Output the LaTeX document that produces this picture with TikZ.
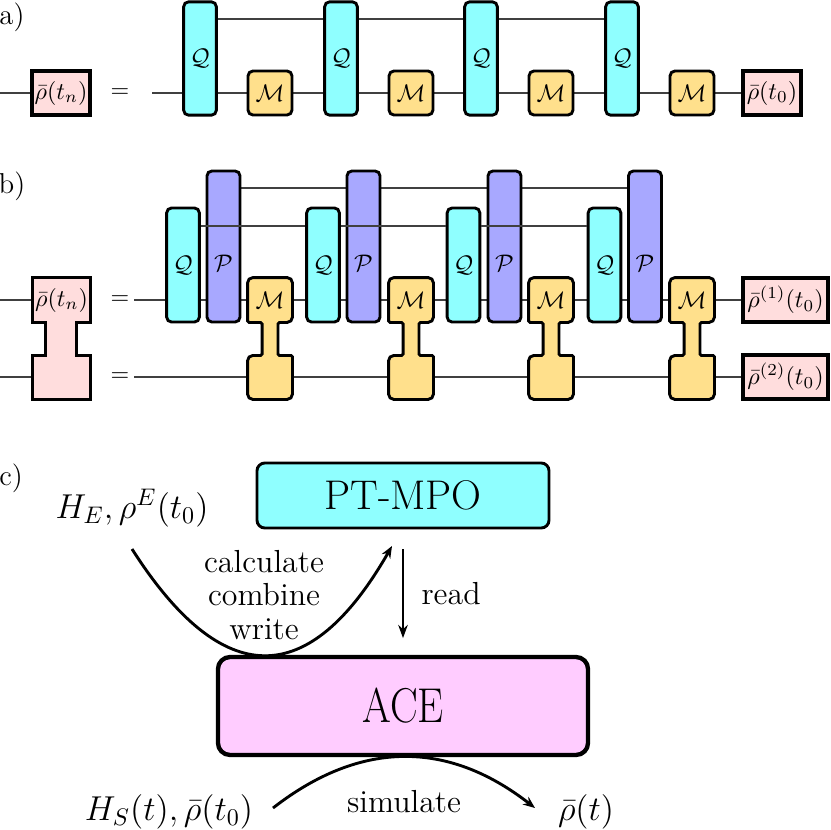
\documentclass[tikz,border=0pt]{standalone}
\usepackage{xcolor}
\usepackage{tikz}
\usepackage{amsmath}
\usepackage{graphicx}
\usetikzlibrary{
  arrows.meta,
  positioning,
  backgrounds
}
\definecolor{acQ}{HTML}{8FFFFF}
\definecolor{acP}{HTML}{A8A8FF}
\definecolor{acM}{HTML}{FFE08C}
\definecolor{acRho}{HTML}{FFDDDD}
\definecolor{acACE}{HTML}{FFCCFF}
\tikzset{
  acnode/.style={
    draw, very thick, rounded corners=2pt, inner sep=0pt, font=\normalsize
  },
  qgate/.style={acnode, fill=acQ, minimum width=13.6pt, minimum height=47.2pt},
  pgate/.style={acnode, fill=acP, minimum width=13.75pt, minimum height=62.9pt},
  mgate/.style={acnode, fill=acM, minimum width=18.3pt, minimum height=18.3pt},
  mlabel/.style={inner sep=0pt, minimum width=18.3pt, minimum height=18.3pt},
  rhobox/.style={draw, line width=1.4pt, fill=acRho, inner sep=0pt, minimum height=18.3pt},
  rholabel/.style={inner sep=0pt, minimum width=23.75pt, minimum height=18.3pt},
  mshape/.style={draw, very thick, fill=acM, rounded corners=2.2pt},
  neck/.style={rounded corners=0.6pt},
  rhoshape/.style={draw, line width=1.4pt, fill=acRho},
  wire/.style={line width=0.7pt, black!75},
  panel/.style={font=\large},
  tool/.style={draw, font=\LARGE, inner sep=0pt},
  flow/.style={-{Stealth[length=5pt, width=4pt]}, line width=1.2pt},
  readflow/.style={-{Stealth[length=5.5pt, width=4pt]}, line width=0.8pt},
  flowlabel/.style={font=\fontsize{13.3}{13.8}\selectfont, align=center},
  mathlabel/.style={font=\Large}
}

\begin{document}
\begin{tikzpicture}[x=0.41667pt, y=-0.41667pt]
  \useasboundingbox (0,0) rectangle (831,829);
  % a) single chain
  \node[panel] (la) at (12,17) {a)};
  \node[rhobox, minimum width=24.2pt] (ra) at (61,93) {$\bar\rho(t_n)$};
  \node (eqa) at (120,93) {$=$};
  \node[qgate] (qa1) at (200,58.5) {$\mathcal{Q}$};
  \node[qgate] (qa2) at (341,58.5) {$\mathcal{Q}$};
  \node[qgate] (qa3) at (481,58.5) {$\mathcal{Q}$};
  \node[qgate] (qa4) at (622,58.5) {$\mathcal{Q}$};
  \node[mgate] (ma1) at (270,93) {$\mathcal{M}$};
  \node[mgate] (ma2) at (411,93) {$\mathcal{M}$};
  \node[mgate] (ma3) at (551,93) {$\mathcal{M}$};
  \node[mgate] (ma4) at (692,93) {$\mathcal{M}$};
  \node[rhobox, minimum width=24.2pt] (r0a) at (772,93) {$\bar\rho(t_0)$};
  \coordinate (ain) at (0,93);
  \coordinate (aeq) at (152,93);
  \coordinate (atop) at (0,19);

  % b) two chains
  \node[panel] (lb) at (12,186) {b)};
  \node[rholabel] (rb) at (61.5,300) {$\bar\rho(t_n)$};
  \node[rholabel] (rbl) at (61.5,377) {};
  \node (eqb1) at (120,300) {$=$};
  \node (eqb2) at (120,377) {$=$};
  \node[pgate, label={[yshift=-6.9pt]center:$\mathcal{P}$}] (pb1) at (223.5,246.5) {};
  \node[pgate, label={[yshift=-6.9pt]center:$\mathcal{P}$}] (pb2) at (363.5,246.5) {};
  \node[pgate, label={[yshift=-6.9pt]center:$\mathcal{P}$}] (pb3) at (504.5,246.5) {};
  \node[pgate, label={[yshift=-6.9pt]center:$\mathcal{P}$}] (pb4) at (645,246.5) {};
  \node[qgate, minimum height=47.5pt] (qb1) at (183,265) {$\mathcal{Q}$};
  \node[qgate, minimum height=47.5pt] (qb2) at (323,265) {$\mathcal{Q}$};
  \node[qgate, minimum height=47.5pt] (qb3) at (463.5,265) {$\mathcal{Q}$};
  \node[qgate, minimum height=47.5pt] (qb4) at (604.5,265) {$\mathcal{Q}$};
  \node[mlabel] (mb1) at (270,300) {$\mathcal{M}$};
  \node[mlabel] (mb2) at (411,300) {$\mathcal{M}$};
  \node[mlabel] (mb3) at (551,300) {$\mathcal{M}$};
  \node[mlabel] (mb4) at (692,300) {$\mathcal{M}$};
  \node[mlabel] (mbl1) at (270,377) {};
  \node[mlabel] (mbl2) at (411,377) {};
  \node[mlabel] (mbl3) at (551,377) {};
  \node[mlabel] (mbl4) at (692,377) {};
  \node[rhobox, minimum width=35.4pt] (r1) at (785.5,300) {$\bar\rho^{(1)}(t_0)$};
  \node[rhobox, minimum width=35.4pt] (r2) at (785.5,377) {$\bar\rho^{(2)}(t_0)$};
  \coordinate (bin1) at (0,300);
  \coordinate (bin2) at (0,377);
  \coordinate (beq1) at (134,300);
  \coordinate (beq2) at (134,377);
  \coordinate (plev) at (0,188);
  \coordinate (qlev) at (0,226);
  \draw[wire] (qb1.east |- qlev) -- (qb2.west |- qlev);
  \draw[wire] (qb2.east |- qlev) -- (qb3.west |- qlev);
  \draw[wire] (qb3.east |- qlev) -- (qb4.west |- qlev);

  % c) workflow
  \node[panel] (lc) at (11,478) {c)};
  \node[mathlabel] (he) at (132,508) {$H_E,\rho^E(t_0)$};
  \node[tool, fill=acQ, line width=1.2pt, rounded corners=3.3pt,
        minimum width=121.7pt, minimum height=27.1pt] (pt) at (403,495.5) {PT-MPO};
  \node[tool, fill=acACE, line width=1.8pt, rounded corners=5pt,
        minimum width=154.2pt, minimum height=40.8pt] (ace) at (403,706) {\scalebox{1}[1.18]{ACE}};
  \node[flowlabel] (cw) at (264,595) {calculate\\combine\\write};
  \node[mathlabel] (hs) at (169,812) {$H_S(t),\bar\rho(t_0)$};
  \node[mathlabel] (rt) at (586,812) {$\bar\rho(t)$};
  \node[flowlabel] (sim) at (404,802) {simulate};
  \coordinate (cwin) at (132,549);
  \coordinate (cwout) at (392,546);
  \coordinate (simin) at (273,808);
  \coordinate (simout) at (535,808);
  \draw[flow] (cwin) .. controls +(90.7,142.3) and +(-82.7,144.3) .. (cwout);
  \draw[readflow] ([yshift=-8.3pt]pt.south) -- node[flowlabel, right=4pt] (rd) {read} ([yshift=7pt]ace.north);
  \draw[flow] (simin) .. controls +(87.3,-68) and +(-87.3,-68) .. (simout);

  \begin{scope}[on background layer]
    \draw[wire] (ain) -- (ra.west);
    \draw[wire] (aeq) -- (r0a.west);
    \draw[wire] (qa1 |- atop) -- (qa4 |- atop);
    \draw[wire] (bin1) -- (rb.west);
    \draw[wire] (bin2) -- (rbl.west);
    \draw[wire] (beq1) -- (r1.west);
    \draw[wire] (beq2) -- (r2.west);
    \draw[wire] (pb1 |- plev) -- (pb4 |- plev);
    \draw[rhoshape] (rb.north west) -- (rb.north east) -- (rb.south east) -- ++(-14,0) -- ++(0,33) -- ++(14,0)
      -- (rbl.south east) -- (rbl.south west) -- ++(0,-44) -- ++(13,0) -- ++(0,-33) -- (rb.south west) -- cycle;
    \draw[mshape] (mb1.north west) -- (mb1.north east) -- (mb1.south east) [neck] -- ++(-14.5,0) -- ++(0,33) -- ++(14.5,0)
      [rounded corners=2.2pt] -- (mbl1.south east) -- (mbl1.south west) -- ++(0,-44) [neck] -- ++(14.5,0) -- ++(0,-33) -- (mb1.south west) [rounded corners=2.2pt] -- cycle;
    \draw[mshape] (mb2.north west) -- (mb2.north east) -- (mb2.south east) [neck] -- ++(-14.5,0) -- ++(0,33) -- ++(14.5,0)
      [rounded corners=2.2pt] -- (mbl2.south east) -- (mbl2.south west) -- ++(0,-44) [neck] -- ++(14.5,0) -- ++(0,-33) -- (mb2.south west) [rounded corners=2.2pt] -- cycle;
    \draw[mshape] (mb3.north west) -- (mb3.north east) -- (mb3.south east) [neck] -- ++(-14.5,0) -- ++(0,33) -- ++(14.5,0)
      [rounded corners=2.2pt] -- (mbl3.south east) -- (mbl3.south west) -- ++(0,-44) [neck] -- ++(14.5,0) -- ++(0,-33) -- (mb3.south west) [rounded corners=2.2pt] -- cycle;
    \draw[mshape] (mb4.north west) -- (mb4.north east) -- (mb4.south east) [neck] -- ++(-14.5,0) -- ++(0,33) -- ++(14.5,0)
      [rounded corners=2.2pt] -- (mbl4.south east) -- (mbl4.south west) -- ++(0,-44) [neck] -- ++(14.5,0) -- ++(0,-33) -- (mb4.south west) [rounded corners=2.2pt] -- cycle;
  \end{scope}
\end{tikzpicture}
\end{document}
